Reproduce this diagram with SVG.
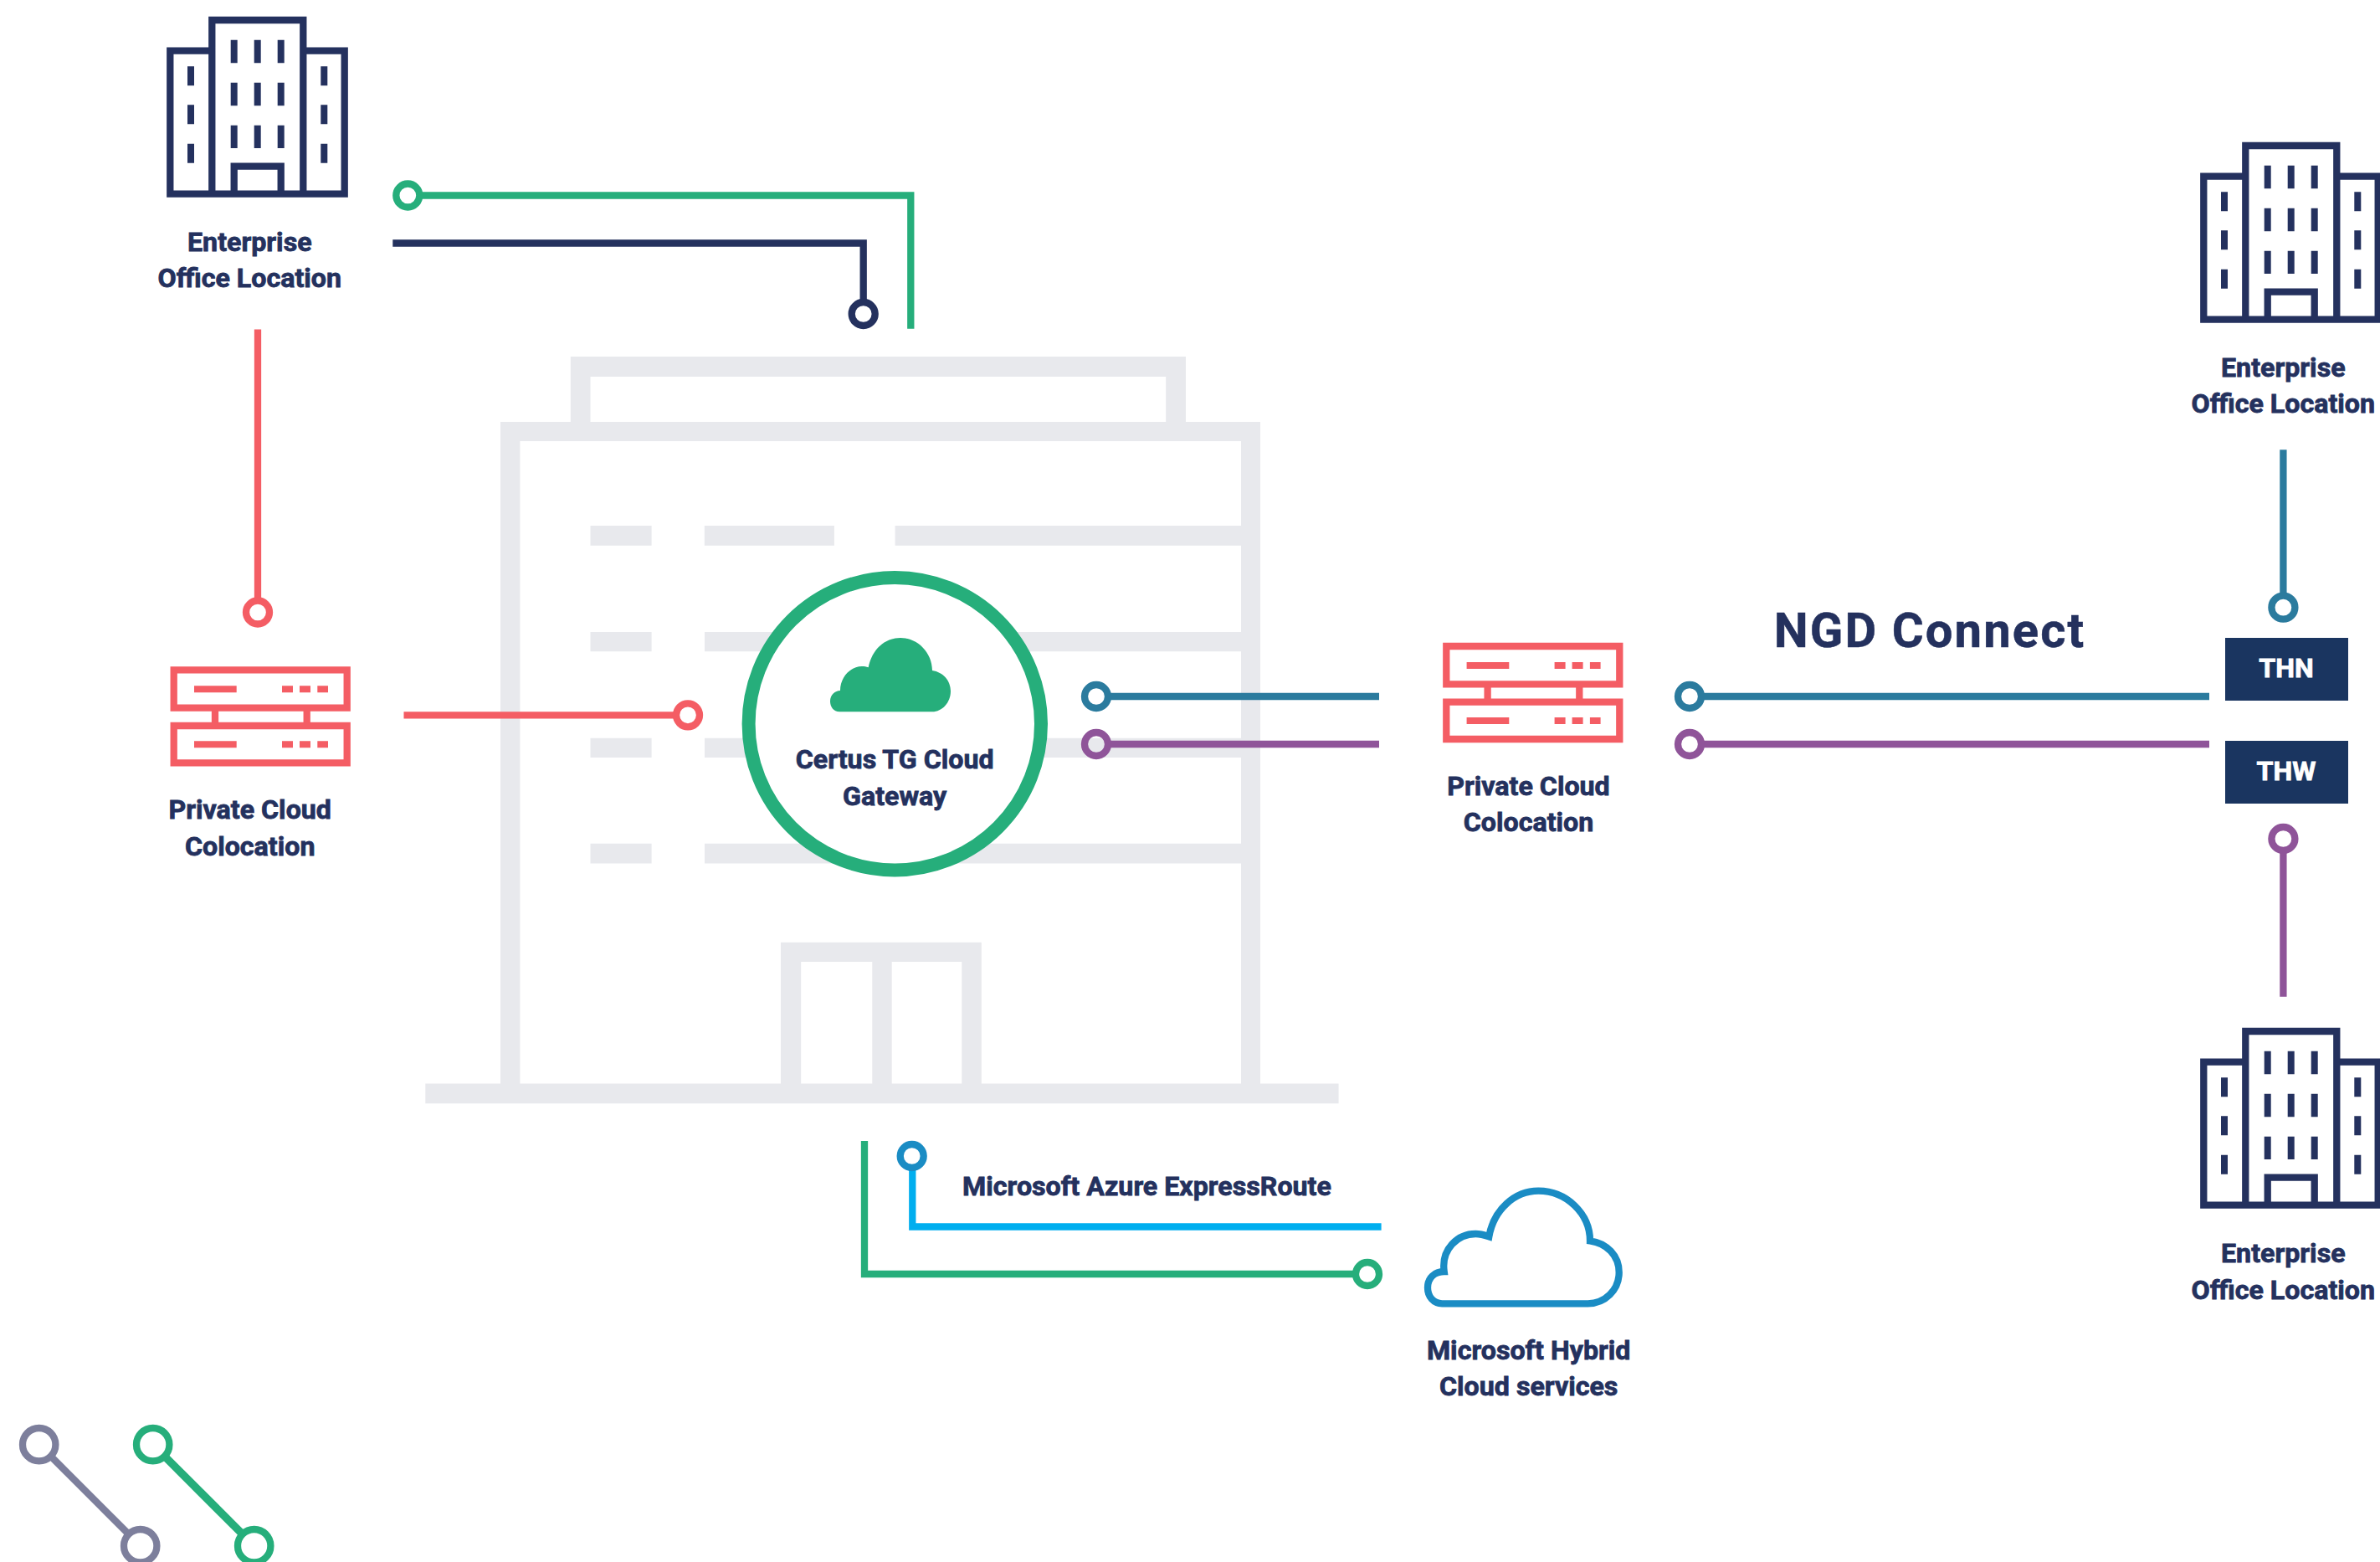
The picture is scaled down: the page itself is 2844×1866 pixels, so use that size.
<svg xmlns="http://www.w3.org/2000/svg" width="2844" height="1866" viewBox="0 0 2844 1866">
<style>
text{font-family:Roboto,"Liberation Sans",sans-serif;font-weight:700;font-size:32.2px;fill:#24315e;stroke:#24315e;stroke-width:.8px;text-anchor:middle}
.ln{fill:none;stroke-width:8.3;stroke-linejoin:miter}
.bg{fill:#e8e9ed}
.navy{stroke:#24315e}.green{stroke:#26ae7b}.coral{stroke:#f45d64}.teal{stroke:#2b7b9e}.purple{stroke:#8f5499}.sky{stroke:#00aeef}.azure{stroke:#1a8cc4}.slate{stroke:#7d7f9c}
</style>
<defs>
<g id="office">
<path class="ln navy" d="M4 40.7H54V211.7H4ZM54 4H163V211.7H54ZM163 40.7H212.4V211.7H163ZM80.4 211.7V178.7H136.4V211.7"/>
<path fill="#24315e" d="M76.4 27.7h8v27.6h-8zM104.4 27.7h8v27.6h-8zM132.4 27.7h8v27.6h-8zM76.4 78.7h8v27.6h-8zM104.4 78.7h8v27.6h-8zM132.4 78.7h8v27.6h-8zM76.4 129.7h8v27.4h-8zM104.4 129.7h8v27.4h-8zM132.4 129.7h8v27.4h-8zM24.7 59.3h8v23h-8zM24.7 105.3h8v23h-8zM24.7 151.7h8v23h-8zM184 59.3h8v23h-8zM184 105.3h8v23h-8zM184 151.7h8v23h-8z"/>
</g>
<g id="server">
<path class="ln coral" d="M4 4H211V49.4H4ZM4 70.7H211V115H4ZM53.3 53.4V66.7M163 53.4V66.7"/>
<path fill="#f45d64" d="M28.3 23h50.7v8H28.3zM133.3 23h13v8h-13zM154.3 23h13v8h-13zM175.6 23h12.7v8h-12.7zM28.3 89h50.7v8H28.3zM133.3 89h13v8h-13zM154.3 89h13v8h-13zM175.6 89h12.7v8h-12.7z"/>
</g>
</defs>
<g id="background-building">
<path class="bg" d="M681.8 426H1417V504H1506V1294.5H1599.6V1318.2H508.3V1294.5H598V504H681.8ZM705.5 450V504H1393.2V450ZM621.4 527V1294.5H933V1125.7H1172.8V1294.5H1483V1031.6H842V1007.8H1483V905H842V881.7H1483V778.3H842V755H1483V651.7H1069.6V628H1483V527ZM957.2 1149V1294.5H1042.3V1149ZM1065.7 1149V1294.5H1149.3V1149Z" fill-rule="evenodd"/>
<path class="bg" d="M705.5 628h73.1v23.7h-73.1zM841.8 628h155.1v23.7h-155.1zM705.5 755h73.1v23.3h-73.1zM705.5 881.7h73.1v23.3h-73.1zM705.5 1007.8h73.1v23.8h-73.1z"/>
</g>
<g id="connectors">
<path class="ln green" d="M505 233.5H1088.3V392.7"/>
<circle class="ln green" cx="487.3" cy="233.5" r="14"/>
<path class="ln navy" d="M469.3 290.5H1031.7V360"/>
<circle class="ln navy" cx="1031.7" cy="375" r="14"/>
<path class="ln coral" d="M308 393.6V716"/>
<circle class="ln coral" cx="308" cy="731.5" r="14"/>
<path class="ln coral" d="M482.5 854.3H805"/>
<circle class="ln coral" cx="822" cy="854.3" r="14"/>
<circle class="ln teal" cx="1310" cy="832" r="14"/>
<path class="ln teal" d="M1326 832H1648"/>
<circle class="ln purple" cx="1310" cy="889" r="14"/>
<path class="ln purple" d="M1326 889H1648"/>
<circle class="ln teal" cx="2019" cy="832" r="14"/>
<path class="ln teal" d="M2035 832H2640"/>
<circle class="ln purple" cx="2019" cy="889" r="14"/>
<path class="ln purple" d="M2035 889H2640"/>
<path class="ln teal" d="M2728.4 537.3V710"/>
<circle class="ln teal" cx="2728.4" cy="725.7" r="14"/>
<circle class="ln purple" cx="2728.4" cy="1002" r="14"/>
<path class="ln purple" d="M2728.4 1018V1190.7"/>
<path class="ln sky" d="M1090.3 1396V1465.5H1650.6"/>
<circle class="ln azure" cx="1089.7" cy="1381" r="14"/>
<path class="ln green" d="M1033 1363V1522H1618"/>
<circle class="ln green" cx="1634" cy="1522" r="14"/>
<circle class="ln slate" cx="46.7" cy="1725.7" r="19.7"/>
<circle class="ln slate" cx="167.7" cy="1846.7" r="19.7"/>
<path class="ln slate" d="M61 1740L153.5 1832.5"/>
<circle class="ln green" cx="182.7" cy="1725.7" r="19.7"/>
<circle class="ln green" cx="303.7" cy="1846.7" r="19.7"/>
<path class="ln green" style="stroke-width:9.5" d="M197 1740L289.5 1832.5"/>
</g>
<g id="office-top-left"><use href="#office" x="199.3" y="20"/><text x="298.3" y="300">Enterprise</text><text x="298.3" y="343.3">Office Location</text></g>
<g id="office-top-right"><use href="#office" x="2629.3" y="170"/><text x="2728.3" y="450">Enterprise</text><text x="2728.3" y="493.3">Office Location</text></g>
<g id="office-bottom-right"><use href="#office" x="2629.3" y="1228"/><text x="2728.3" y="1508.3">Enterprise</text><text x="2728.3" y="1551.7">Office Location</text></g>
<g id="colocation-left"><use href="#server" x="203.7" y="796.3"/><text x="298.7" y="978.3">Private Cloud</text><text x="298.7" y="1021.7">Colocation</text></g>
<g id="colocation-right"><use href="#server" x="1724.3" y="768"/><text x="1826.5" y="950">Private Cloud</text><text x="1826.5" y="993.4">Colocation</text></g>
<g id="gateway">
<circle cx="1069.3" cy="864.7" r="174.7" fill="#fff" stroke="#26ae7b" stroke-width="16"/>
<path fill="#26ae7b" d="M1003.3 850.3C996 850.3 992 844 992 837.7C992 830 998 825 1004 825C1004 808 1017 796 1030 796C1033 796 1035 796.5 1037.7 797.3C1042 776 1057 762 1076 762C1097 762 1114 780 1114 801C1127 803 1136 813 1136 825.7C1136 839 1126 850.3 1114 850.3Z"/>
<text x="1069.2" y="918.3">Certus TG Cloud</text><text x="1069.2" y="961.7">Gateway</text>
</g>
<g id="ngd-connect"><text x="2306" y="772.5" style="font-size:58px;letter-spacing:2.1px;stroke-width:.5px">NGD Connect</text></g>
<g id="thn"><rect x="2659" y="762" width="147" height="75" fill="#1a3560"/><text x="2732" y="809" style="fill:#fff;stroke:#fff">THN</text></g>
<g id="thw"><rect x="2659" y="885" width="147" height="75" fill="#1a3560"/><text x="2732" y="932" style="fill:#fff;stroke:#fff">THW</text></g>
<g id="azure-expressroute"><text x="1370.5" y="1427.7">Microsoft Azure ExpressRoute</text></g>
<g id="hybrid-cloud">
<path class="ln azure" d="M1723.3 1557.3C1713 1557.3 1706 1549 1706 1538.3C1706 1527 1714 1519 1725.7 1519C1722 1492 1742 1474 1763.3 1474C1769 1474 1774 1475.5 1779.3 1477.3C1785 1445 1810 1422.7 1838.3 1422.7C1872 1422.7 1900 1450 1900 1482.3C1920 1485 1934.7 1500 1934.7 1520C1934.7 1541 1918 1557.3 1897.3 1557.3Z"/>
<text x="1826.7" y="1624">Microsoft Hybrid</text><text x="1826.7" y="1667.3">Cloud services</text>
</g>
</svg>
